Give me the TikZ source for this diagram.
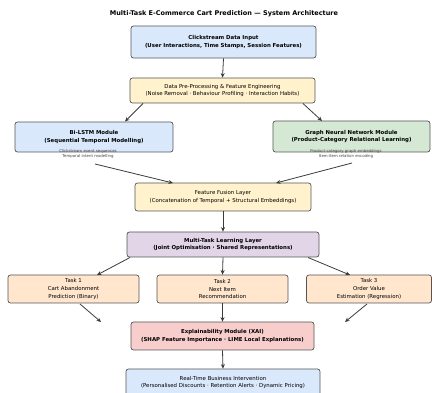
\documentclass[tikz,border=0pt]{standalone}
\usepackage{fontspec}
\setmainfont{DejaVu Sans}
\usetikzlibrary{arrows.meta}
\definecolor{cblue}{HTML}{DAE8FC}
\definecolor{cyellow}{HTML}{FFF2CC}
\definecolor{cgreen}{HTML}{D5E8D4}
\definecolor{cpurple}{HTML}{E1D5E7}
\definecolor{corange}{HTML}{FFE6CC}
\definecolor{cred}{HTML}{F8CECC}
\definecolor{cedge}{HTML}{555555}
\definecolor{carrow}{HTML}{3A3A3A}
\tikzset{
  box/.style={draw=cedge, line width=0.7pt, rounded corners=2.5pt, align=center,
    inner sep=0pt, font=\fontsize{5.4}{7.8}\selectfont},
  captext/.style={align=center, inner sep=0pt, text=black!75, font=\fontsize{3.9}{5.8}\selectfont},
  arr/.style={draw=carrow, line width=0.8pt, -{Stealth[length=4.5pt,width=4pt]}},
}
\begin{document}
\begin{tikzpicture}[x=1pt,y=-1pt]
\useasboundingbox (0,0) rectangle (432,393);
\node[font=\fontsize{6.5}{7.5}\selectfont\bfseries] (title) at (224,14) {Multi-Task E-Commerce Cart Prediction — System Architecture};

\node[box, fill=cblue, minimum width=185pt, minimum height=32pt] (inp) at (223.5,42)
  {\textbf{Clickstream Data Input}\\\textbf{(User Interactions, Time Stamps, Session Features)}};
\node[box, fill=cyellow, minimum width=185pt, minimum height=25pt] (pre) at (222.5,90.5)
  {Data Pre-Processing \& Feature Engineering\\(Noise Removal · Behaviour Profiling · Interaction Habits)};
\node[box, fill=cblue, minimum width=158pt, minimum height=30pt] (lstm) at (94,137)
  {\textbf{Bi-LSTM Module}\\\textbf{(Sequential Temporal Modelling)}};
\node[box, fill=cgreen, minimum width=157pt, minimum height=31pt] (gnn) at (351.5,136.5)
  {\textbf{Graph Neural Network Module}\\\textbf{(Product-Category Relational Learning)}};
\node[captext] (lcap) at (88,154) {Clickstream event sequences\\Temporal intent modelling};
\node[captext] (gcap) at (346,154) {Product-category graph embeddings\\Item-item relation encoding};
\node[box, fill=cyellow, minimum width=176pt, minimum height=28pt] (fus) at (223,197)
  {Feature Fusion Layer\\(Concatenation of Temporal + Structural Embeddings)};
\node[box, fill=cpurple, minimum width=192pt, minimum height=25pt] (mtl) at (223,244.5)
  {\textbf{Multi-Task Learning Layer}\\\textbf{(Joint Optimisation · Shared Representations)}};
\node[box, fill=corange, minimum width=131pt, minimum height=28pt] (t1) at (73.5,289)
  {Task 1\\Cart Abandonment\\Prediction (Binary)};
\node[box, fill=corange, minimum width=131pt, minimum height=28pt] (t2) at (222.5,289)
  {Task 2\\Next Item\\Recommendation};
\node[box, fill=corange, minimum width=125pt, minimum height=28pt] (t3) at (369,289)
  {Task 3\\Order Value\\Estimation (Regression)};
\node[box, fill=cred, minimum width=183pt, minimum height=28pt] (xai) at (222.5,336)
  {\textbf{Explainability Module (XAI)}\\\textbf{(SHAP Feature Importance · LIME Local Explanations)}};
\node[box, fill=cblue, minimum width=194pt, minimum height=30pt, text depth=0pt] (out) at (223,384)
  {\raisebox{4pt}{\shortstack{Real-Time Business Intervention\\(Personalised Discounts · Retention Alerts · Dynamic Pricing)}}};

% connector endpoints
\coordinate (preL) at (143,103.5);
\coordinate (preR) at (303,103.5);
\coordinate (lstmIn) at (125,121.5);
\coordinate (gnnIn) at (322,121);
\coordinate (lstmOut) at (95,164);
\coordinate (gnnOut) at (352,163);
\coordinate (fusL) at (173,183);
\coordinate (fusR) at (276,183);
\coordinate (mtlL) at (130,257.5);
\coordinate (mtlR) at (308,257.5);
\coordinate (t1In) at (97,275);
\coordinate (t3In) at (350,275);
\coordinate (t1Out) at (80,304);
\coordinate (t3Out) at (367,304);
\coordinate (xaiL) at (101,322);
\coordinate (xaiR) at (345,322);

\draw[arr] (inp.south) -- (pre.north);
\draw[arr] (preL) -- (lstmIn);
\draw[arr] (preR) -- (gnnIn);
\draw[arr] (lstmOut) -- (fusL);
\draw[arr] (gnnOut) -- (fusR);
\draw[arr] (fus.south) -- (mtl.north);
\draw[arr] (mtlL) -- (t1In);
\draw[arr] (mtl.south) -- (t2.north);
\draw[arr] (mtlR) -- (t3In);
\draw[arr] (t1Out) -- (xaiL);
\draw[arr] (t2.south) -- (xai.north);
\draw[arr] (t3Out) -- (xaiR);
\draw[arr] (xai.south) -- (out.north);
\end{tikzpicture}
\end{document}
